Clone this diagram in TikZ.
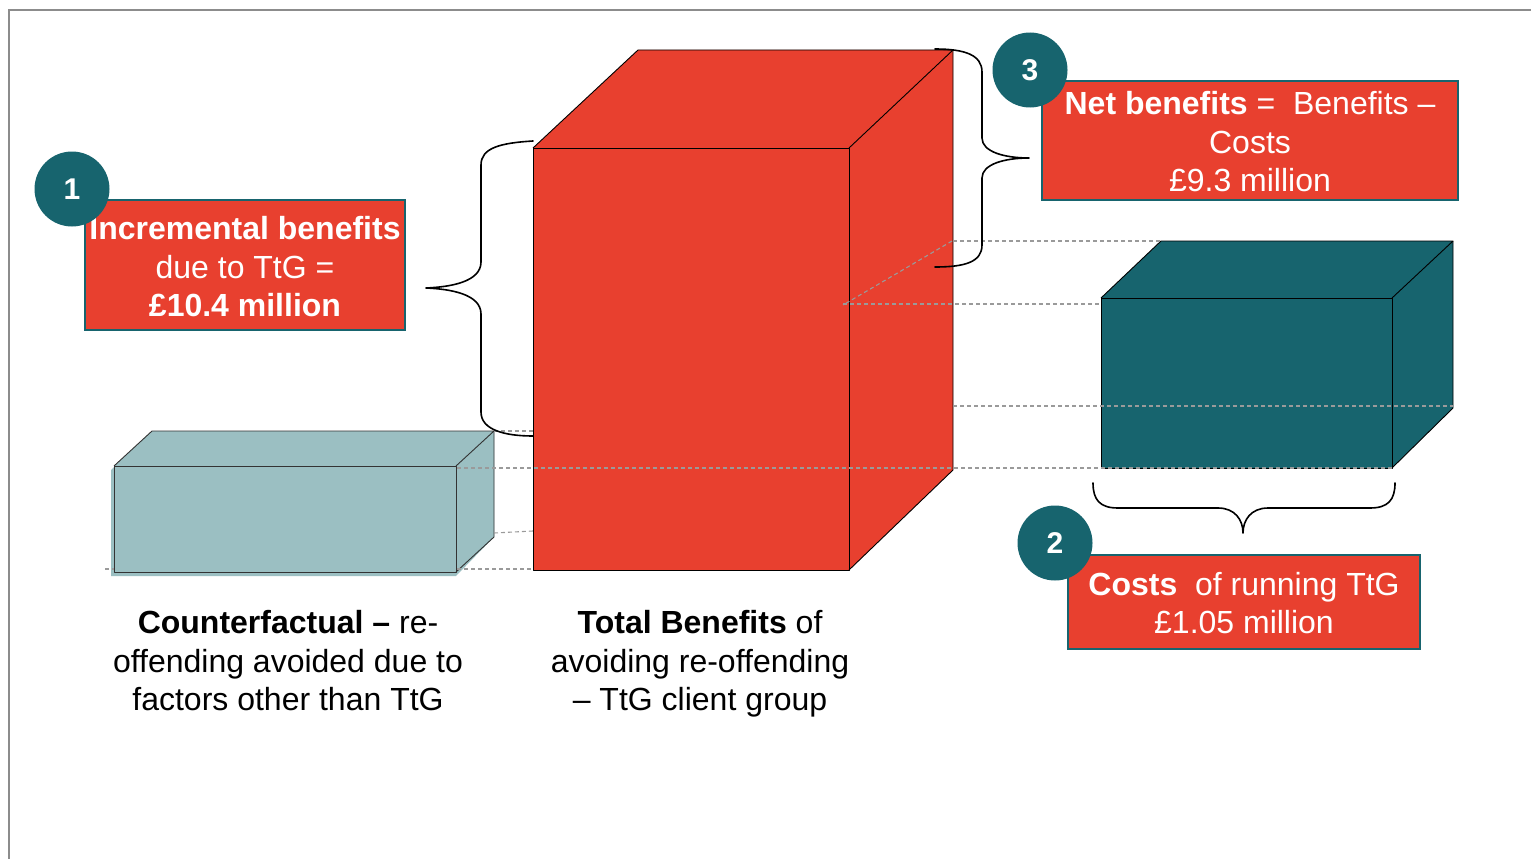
\documentclass[tikz,border=0pt]{standalone}
\usepackage{fontspec}
\setmainfont{Liberation Sans}
\definecolor{tred}{HTML}{E8402F}
\definecolor{tteal}{HTML}{17646E}
\definecolor{tlight}{HTML}{9BBFC2}
\definecolor{tframe}{HTML}{8C8C8C}
\definecolor{tdash}{HTML}{9A9A9A}
\begin{document}
\begin{tikzpicture}[x=1pt,y=-1pt,
  big/.style={font=\fontsize{32}{38.5}\selectfont},
  labelbox/.style={draw=tteal,line width=2pt,fill=tred,inner sep=0pt},
  labeltext/.style={big,text=white,align=center,inner sep=0pt},
  numcirc/.style={circle,fill=tteal,text=white,minimum size=75pt,inner sep=0pt,font=\fontsize{30}{30}\selectfont\bfseries},
  edge/.style={draw=black,line width=0.9pt,line join=round},
  hidden/.style={draw=tdash,line width=1.1pt,dash pattern=on 4pt off 3pt},
  bracestyle/.style={draw=black,line width=1.6pt,line cap=round,line join=round},
  caption/.style={big,align=center,text=black}]
\useasboundingbox (0,0) rectangle (1531,859);
% frame
\draw[tframe,line width=2pt] (9,859) -- (9,10) -- (1535,10);
% counterfactual box shadow
\fill[tlight] (111,470) -- (152,431) -- (494,431) -- (494,537) -- (456,576) -- (111,576) -- cycle;
% counterfactual box
\fill[tlight] (114,466) -- (152,431) -- (494,431) -- (494,537) -- (456,572) -- (114,572) -- cycle;
\draw[edge,draw=black!80] (114,466) rectangle (456,572);
\draw[edge,draw=black!80] (114,466) -- (152,431) -- (494,431) -- (456,466);
\draw[edge,draw=black!80] (494,431) -- (494,537) -- (456,572);
% red box
\fill[tred] (533,148) -- (638,50) -- (953,50) -- (953,470) -- (849,570) -- (533,570) -- cycle;
\draw[edge] (533,148) rectangle (849,570);
\draw[edge] (533,148) -- (638,50) -- (953,50) -- (849,148);
\draw[edge] (953,50) -- (953,470) -- (849,570);
% teal box
\fill[tteal] (1101,298) -- (1161,241) -- (1453,241) -- (1453,408) -- (1392,468) -- (1101,468) -- cycle;
\draw[edge] (1101,298) rectangle (1392,468);
\draw[edge] (1101,298) -- (1161,241) -- (1453,241) -- (1392,298);
\draw[edge] (1453,241) -- (1453,408) -- (1392,468);
% hidden/dashed guide lines
\draw[hidden] (953,241) -- (1161,241);
\draw[hidden] (952,241) -- (843,305);
\draw[hidden] (843,304) -- (1101,304);
\draw[hidden] (953,406) -- (1453,406);
\draw[hidden] (457,468) -- (1392,468);
\draw[hidden] (494,431) -- (533,431);
\draw[hidden] (494,533) -- (533,531);
\draw[hidden] (105,569) -- (114,569);
\draw[hidden] (457,569) -- (533,569);
% braces
\draw[bracestyle] (533,141) .. controls (500,143) and (481,148) .. (481,165) -- (481,262)
  .. controls (481,282) and (450,287) .. (426,288)
  .. controls (450,289) and (481,294) .. (481,314) -- (481,412)
  .. controls (481,430) and (505,436) .. (533,436);
\draw[bracestyle] (935,49) .. controls (965,49) and (982,55) .. (982,72) -- (982,138)
  .. controls (982,152) and (1005,158) .. (1029,158)
  .. controls (1005,158) and (982,164) .. (982,178) -- (982,245)
  .. controls (982,262) and (965,267) .. (935,267);
\draw[bracestyle] (1093,483) .. controls (1093,500) and (1100,508) .. (1118,508) -- (1218,508)
  .. controls (1235,508) and (1243,520) .. (1243,533)
  .. controls (1243,520) and (1251,508) .. (1268,508) -- (1370,508)
  .. controls (1388,508) and (1395,500) .. (1395,483);
% label boxes
\node[labelbox,minimum width=320pt,minimum height=130pt] (b1) at (245,265) {};
\node[labeltext] (t1) at (245,267)
  {\textbf{Incremental benefits}\\due to TtG =\\\textbf{£10.4 million}};
\node[labelbox,minimum width=416pt,minimum height=119pt] (b3) at (1250,140.5) {};
\node[labeltext] (t3) at (1250,142)
  {\textbf{Net benefits} =\ \ Benefits –\\Costs\\£9.3 million};
\node[labelbox,minimum width=352pt,minimum height=94pt] (b2) at (1244,602) {};
\node[labeltext] (t2) at (1244,603)
  {\textbf{Costs}\ \ of running TtG\\£1.05 million};
% number circles
\node[numcirc] (c1) at (72,189) {1};
\node[numcirc] (c3) at (1030,70) {3};
\node[numcirc] (c2) at (1055,543) {2};
% captions
\node[caption] (cap1) at (288,661) {\textbf{Counterfactual –} re-\\offending avoided due to\\factors other than TtG};
\node[caption] (cap2) at (700,664) {\textbf{Total Benefits} of\\avoiding re-offending\\– TtG client group};
\end{tikzpicture}
\end{document}
